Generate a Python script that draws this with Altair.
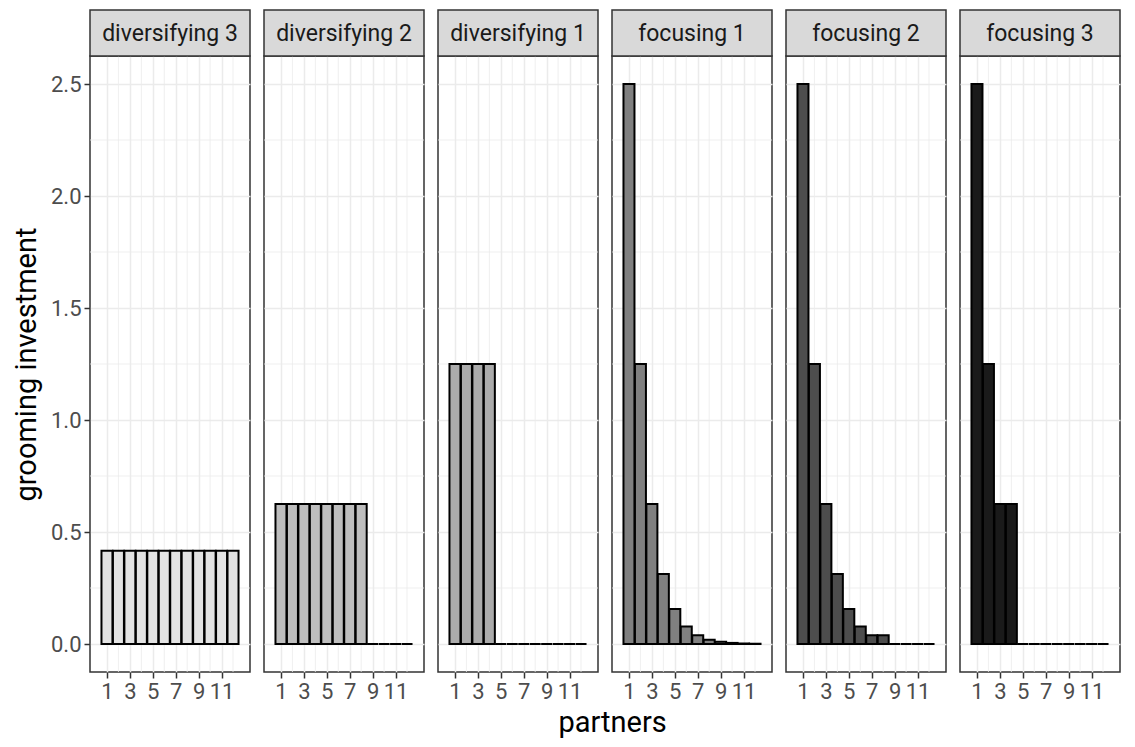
import altair as alt
import pandas as pd

panels = ["diversifying 3", "diversifying 2", "diversifying 1",
          "focusing 1", "focusing 2", "focusing 3"]
partners = [1, 2, 3, 4, 5, 6, 7, 8, 9, 10, 11, 12]

div3 = [0.4167, 0.4167, 0.4167, 0.4167, 0.4167, 0.4167,
        0.4167, 0.4167, 0.4167, 0.4167, 0.4167, 0.4167]
div2 = [0.625, 0.625, 0.625, 0.625, 0.625, 0.625, 0.625, 0.625, 0, 0, 0, 0]
div1 = [1.25, 1.25, 1.25, 1.25, 0, 0, 0, 0, 0, 0, 0, 0]
foc1 = [2.5, 1.25, 0.625, 0.3125, 0.15625, 0.078, 0.039, 0.0195,
        0.0098, 0.0049, 0.0024, 0.0012]
foc2 = [2.5, 1.25, 0.625, 0.3125, 0.15625, 0.078, 0.039, 0.039, 0, 0, 0, 0]
foc3 = [2.5, 1.25, 0.625, 0.625, 0, 0, 0, 0, 0, 0, 0, 0]
series = [div3, div2, div1, foc1, foc2, foc3]

fills = ["#E3E3E3", "#BEBEBE", "#ABABAB", "#808080", "#4D4D4D", "#1A1A1A"]

x_major = [1, 3, 5, 7, 9, 11]
x_minor = [2, 4, 6, 8, 10, 12]
y_major = [0.0, 0.5, 1.0, 1.5, 2.0, 2.5]
y_minor = [0.25, 0.75, 1.25, 1.75, 2.25]
x_title = "partners"
y_title = "grooming investment"

FONT = "Roboto"
W, H = 160, 616
STRIP = 46

xscale = alt.Scale(domain=[-0.045, 13.045], nice=False, zero=False)
yscale = alt.Scale(domain=[-0.125, 2.625], nice=False, zero=False)
cscale = alt.Scale(domain=panels, range=fills)


def make_panel(i, name, vals):
    show_y = i == 0
    xaxis = alt.Axis(values=x_major, title=None, grid=True, domain=False,
                     labelAngle=0, labelFlush=False, labelOverlap=False)
    if show_y:
        yaxis = alt.Axis(values=y_major, format=".1f", title=y_title,
                         grid=True, domain=False)
    else:
        yaxis = alt.Axis(values=y_major, title=None, grid=True, domain=False,
                         labels=False, ticks=False, minExtent=0, maxExtent=0)

    d = pd.DataFrame({"partner": partners, "value": vals, "panel": [name] * len(partners)})
    one = pd.DataFrame({"panel": [name]})

    minor_x = alt.Chart(pd.DataFrame({"v": x_minor})).mark_rule(
        color="#EBEBEB", strokeWidth=0.8
    ).encode(x=alt.X("v:Q", scale=xscale, axis=xaxis))

    minor_y = alt.Chart(pd.DataFrame({"v": y_minor})).mark_rule(
        color="#EBEBEB", strokeWidth=0.8
    ).encode(y=alt.Y("v:Q", scale=yscale, axis=yaxis))

    bars = alt.Chart(d).mark_bar(size=11.0, stroke="black", strokeWidth=2).encode(
        x=alt.X("partner:Q", scale=xscale, axis=xaxis),
        y=alt.Y("value:Q", scale=yscale, axis=yaxis),
        y2=alt.datum(0),
        color=alt.Color("panel:N", scale=cscale, legend=None),
    )

    strip = alt.Chart(one).mark_rect(
        fill="#D9D9D9", stroke="#333333", strokeWidth=1.5
    ).encode(x=alt.value(0), x2=alt.value(W), y=alt.value(-STRIP), y2=alt.value(0))

    label = alt.Chart(one).mark_text(
        font=FONT, fontSize=23, color="#1A1A1A", baseline="alphabetic", align="center"
    ).encode(x=alt.value(W / 2), y=alt.value(-15), text="panel:N")

    return alt.layer(minor_x, minor_y, bars, strip, label).properties(width=W, height=H)


charts = [make_panel(i, n, v) for i, (n, v) in enumerate(zip(panels, series))]

chart = alt.hconcat(*charts, spacing=10).properties(
    title=alt.TitleParams(x_title, orient="bottom", anchor="middle", frame="bounds",
                          font=FONT, fontSize=29, fontWeight="normal",
                          color="#000000", offset=6, dx=46),
    padding={"left": 3, "top": 0, "right": 0, "bottom": 0},
).configure_view(
    stroke="#333333", strokeWidth=1.5
).configure_axis(
    gridColor="#EBEBEB", gridWidth=1.5,
    tickColor="#333333", tickWidth=1.5, tickSize=6,
    labelColor="#4D4D4D", labelFont=FONT, labelFontSize=22, labelPadding=3,
    titleFont=FONT, titleFontSize=29, titleFontWeight="normal", titleColor="#000000",
    titlePadding=9,
)

chart.save("out.html", embed_options={"renderer": "svg", "actions": False})
